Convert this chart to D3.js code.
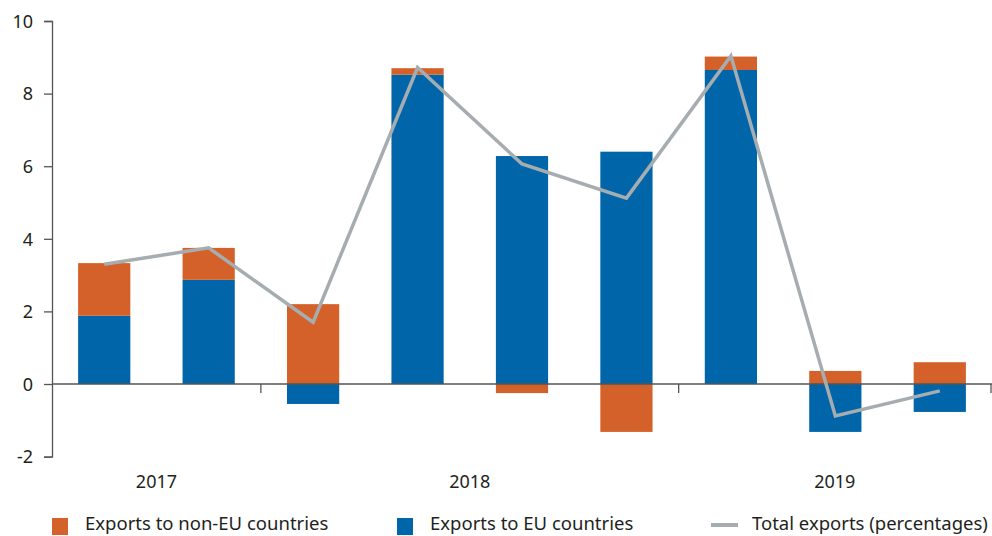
<!DOCTYPE html>
<html>
<head>
<meta charset="utf-8">
<script src="https://cdn.jsdelivr.net/npm/d3@7"></script>
<style>
  body { margin: 0; background: #fff; }
  text { font-family: "Noto Sans", sans-serif; fill: #231f20; }
</style>
</head>
<body>
<script>
// Quarters shown on the x axis
var quarters = ["2017Q3", "2017Q4", "2018Q1", "2018Q2", "2018Q3", "2018Q4", "2019Q1", "2019Q2", "2019Q3"];
var years = ["2017", "2018", "2019"];

// Contributions (percentage points)
var euExports = [1.88, 2.87, -0.55, 8.52, 6.28, 6.4, 8.65, -1.32, -0.77];
var nonEuExports = [1.45, 0.88, 2.2, 0.18, -0.25, -1.32, 0.37, 0.36, 0.6];
var totalExports = [3.3, 3.75, 1.7, 8.72, 6.06, 5.12, 9.04, -0.88, -0.19];

var yTicks = [-2, 0, 2, 4, 6, 8, 10];

var width = 992, height = 536;
var margin = {left: 52, right: 0, top: 21};

var svg = d3.select("body").append("svg")
    .attr("width", width)
    .attr("height", height);

var x = d3.scaleBand()
    .domain(quarters)
    .range([margin.left, width])
    .paddingInner(0.5)
    .paddingOuter(0.25);

var y = d3.scaleLinear()
    .domain([-2, 10])
    .range([456.6, margin.top]);

var blue = "#0066a9", orange = "#d4612a", grey = "#a6adb1";

// Stack positive and negative parts separately
var rows = quarters.map(function(q, i) {
    var parts = [{key: "eu", v: euExports[i]}, {key: "noneu", v: nonEuExports[i]}];
    var pos = 0, neg = 0;
    return parts.map(function(p) {
        var y0, y1;
        if (p.v >= 0) { y0 = pos; y1 = pos + p.v; pos = y1; }
        else { y0 = neg; y1 = neg + p.v; neg = y1; }
        return {q: q, key: p.key, y0: y0, y1: y1};
    });
});

svg.append("g").selectAll("rect")
    .data(d3.merge(rows))
    .enter().append("rect")
    .attr("x", function(d) { return x(d.q); })
    .attr("width", x.bandwidth())
    .attr("y", function(d) { return y(Math.max(d.y0, d.y1)); })
    .attr("height", function(d) { return Math.abs(y(d.y0) - y(d.y1)); })
    .attr("fill", function(d) { return d.key == "eu" ? blue : orange; });

// y axis
var yAxis = svg.append("g")
    .attr("transform", "translate(" + margin.left + ",0)")
    .call(d3.axisLeft(y).tickValues(yTicks).tickSize(8).tickPadding(11).tickFormat(function(d) { return String(d); }));
yAxis.selectAll("path, line").attr("stroke", "#555").attr("stroke-width", 1.3);
yAxis.selectAll("text").style("font-size", "18px").attr("dy", "0.35em");

// zero line with year separators
var step = x.step();
var edges = [margin.left, x("2018Q1") - step * 0.25, x("2019Q1") - step * 0.25, width - 1];
svg.append("line")
    .attr("x1", margin.left).attr("x2", width)
    .attr("y1", y(0)).attr("y2", y(0))
    .attr("stroke", "#555").attr("stroke-width", 1.3);
svg.selectAll(".sep")
    .data(edges.slice(1))
    .enter().append("line")
    .attr("x1", function(d) { return d; }).attr("x2", function(d) { return d; })
    .attr("y1", y(0)).attr("y2", y(0) + 9)
    .attr("stroke", "#555").attr("stroke-width", 1.3);

svg.selectAll(".year")
    .data(years)
    .enter().append("text")
    .attr("x", function(d, i) { return (edges[i] + edges[i + 1]) / 2; })
    .attr("y", 488)
    .attr("text-anchor", "middle")
    .style("font-size", "18px")
    .text(function(d) { return d; });

// total line
var line = d3.line()
    .x(function(d, i) { return x(quarters[i]) + x.bandwidth() / 2; })
    .y(function(d) { return y(d); });

svg.append("path")
    .datum(totalExports)
    .attr("d", line)
    .attr("fill", "none")
    .attr("stroke", grey)
    .attr("stroke-width", 3.5);

// legend
var legend = svg.append("g");
legend.append("rect").attr("x", 52).attr("y", 518).attr("width", 16).attr("height", 17).attr("fill", orange);
legend.append("text").attr("x", 85).attr("y", 530).style("font-size", "18.5px").text("Exports to non-EU countries");
legend.append("rect").attr("x", 397).attr("y", 518).attr("width", 16).attr("height", 17).attr("fill", blue);
legend.append("text").attr("x", 430).attr("y", 530).style("font-size", "18.5px").text("Exports to EU countries");
legend.append("line").attr("x1", 711).attr("x2", 738).attr("y1", 525).attr("y2", 525).attr("stroke", grey).attr("stroke-width", 4);
legend.append("text").attr("x", 752).attr("y", 530).style("font-size", "18.5px").text("Total exports (percentages)");
</script>
</body>
</html>
